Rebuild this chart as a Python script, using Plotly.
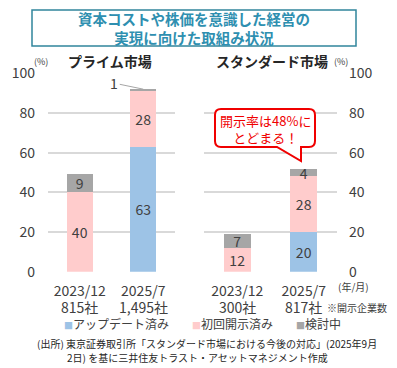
import plotly.graph_objects as go

# ---- data ----
categories = ["2023/12", "2025/7"]
prime_counts = ["815社", "1,495社"]
std_counts = ["300社", "817社"]
series_names = ["アップデート済み", "初回開示済み", "検討中"]
series_colors = ["#9dc3e6", "#ffcccc", "#a6a6a6"]
prime_updated = [0, 63]
prime_initial = [40, 28]
prime_review = [9, 1]
std_updated = [0, 20]
std_initial = [12, 28]
std_review = [7, 4]
y_ticks = [0, 20, 40, 60, 80, 100]

W, H = 397, 368
def X(px): return px / W
def Y(py): return 1 - py / H

FONT = "Noto Sans CJK JP"
TXT = "#404040"

fig = go.Figure()

def lab(vals):
    return [str(v) if v >= 2 else "" for v in vals]

for xa, ya, series in [("x", "y", [prime_updated, prime_initial, prime_review]),
                       ("x2", "y2", [std_updated, std_initial, std_review])]:
    for name, col, vals in zip(series_names, series_colors, series):
        fig.add_trace(go.Bar(
            x=categories, y=vals, name=name, marker=dict(color=col, line=dict(width=0)),
            text=lab(vals), textposition="inside", insidetextanchor="middle", textangle=0,
            textfont=dict(size=14, color=TXT, family=FONT), constraintext="none",
            xaxis=xa, yaxis=ya, width=0.41, showlegend=False, hoverinfo="skip"))

axis_common = dict(type="category", showgrid=False, zeroline=False, showline=False,
                   ticks="", tickfont=dict(size=14, color=TXT, family=FONT),
                   range=[-0.5, 1.5], ticklabelstandoff=9, fixedrange=True, automargin=False)
yaxis_common = dict(range=[0, 100], tickvals=y_ticks, showgrid=True, gridcolor="#d9d9d9",
                    gridwidth=1.5, zeroline=False, showline=False, ticks="",
                    tickfont=dict(size=14, color=TXT, family=FONT), fixedrange=True,
                    domain=[Y(271.7), Y(73.3)], automargin=False)

fig.update_layout(
    width=W, height=H, margin=dict(l=0, r=0, t=0, b=0, autoexpand=False), autosize=False,
    paper_bgcolor="white", plot_bgcolor="white", barmode="stack",
    font=dict(family=FONT, color=TXT),
    uniformtext=dict(minsize=14, mode="show"),
    xaxis=dict(**axis_common, domain=[X(48), X(175)], anchor="y"),
    xaxis2=dict(**axis_common, domain=[X(204), X(337)], anchor="y2"),
    yaxis=dict(**yaxis_common, anchor="x", side="left", ticklabelstandoff=12),
    yaxis2=dict(**yaxis_common, anchor="x2", side="right", ticklabelstandoff=11),
    showlegend=False,
)

shapes = []
# title box
shapes.append(dict(type="rect", xref="paper", yref="paper", x0=X(32), x1=X(356),
                   y0=Y(46), y1=Y(10), line=dict(color="#31859c", width=1.5)))
# callout
pts = [("M", 221, 109), ("L", 309, 109), ("Q", 315, 109, 315, 115), ("L", 315, 141),
       ("Q", 315, 147, 309, 147), ("L", 301, 147), ("L", 301, 161), ("L", 277, 147),
       ("L", 221, 147), ("Q", 215, 147, 215, 141), ("L", 215, 115), ("Q", 215, 109, 221, 109)]
path = ""
for p in pts:
    cmd = p[0]
    coords = p[1:]
    s = []
    for i in range(0, len(coords), 2):
        s.append(f"{X(coords[i]):.5f},{Y(coords[i+1]):.5f}")
    path += cmd + " " + " ".join(s) + " "
path += "Z"
shapes.append(dict(type="path", xref="paper", yref="paper", path=path,
                   line=dict(color="#f00000", width=2), fillcolor="white", layer="above"))
fig.update_layout(shapes=shapes)

def note(x, y, text, size, color=TXT, xanchor="center", **kw):
    return dict(xref="paper", yref="paper", x=X(x), y=Y(y), showarrow=False, text=text,
                xanchor=xanchor, yanchor="middle", font=dict(size=size, color=color, family=FONT), **kw)

ann = []
ann.append(note(194, 28, "<b>資本コストや株価を意識した経営の<br>実現に向けた取組み状況</b>", 14.5,
                "#2e8fb0", align="center"))
ann.append(note(110, 61, "<b>プライム市場</b>", 14, "#262626"))
ann.append(note(272, 61, "<b>スタンダード市場</b>", 14, "#262626"))
ann.append(note(41, 61, "(%)", 9))
ann.append(note(341, 61, "(%)", 9))
# company counts under the category labels
for xr, counts in [("x", prime_counts), ("x2", std_counts)]:
    for c, n in zip(categories, counts):
        ann.append(dict(xref=xr, yref="paper", x=c, y=Y(307), showarrow=False, text=n,
                        xanchor="center", yanchor="middle",
                        font=dict(size=14, color=TXT, family=FONT)))
# small value label with leader line
tot = prime_updated[1] + prime_initial[1] + prime_review[1]
ann.append(dict(xref="x", yref="y", x=categories[1], y=tot, ax=-29, ay=-6,
                text=str(prime_review[1]), showarrow=True, arrowhead=0, arrowwidth=1,
                arrowcolor="#a6a6a6", standoff=0, startstandoff=0,
                font=dict(size=14, color=TXT, family=FONT)))
# callout text
ann.append(note(265, 129, "開示率は48%に<br>とどまる！", 13, "#f00000", align="center"))
ann.append(note(353, 286, "(年/月)", 10))
ann.append(note(357, 307, "※開示企業数", 10))
# legend
leg_x = [62, 190, 294]
for xp, name, col in zip(leg_x, series_names, series_colors):
    ann.append(note(xp, 323, f"<span style='color:{col};font-size:9px'>■</span>{name}", 12,
                    xanchor="left"))
ann.append(note(35, 343, "(出所) 東京証券取引所「スタンダード市場における今後の対応」(2025年9月", 10,
                "#262626", xanchor="left"))
ann.append(note(65, 357, "2日) を基に三井住友トラスト・アセットマネジメント作成", 10,
                "#262626", xanchor="left"))
fig.update_layout(annotations=ann)

fig.write_html("out.html", config={"displayModeBar": False},
               post_script="document.body.style.margin='0';")
